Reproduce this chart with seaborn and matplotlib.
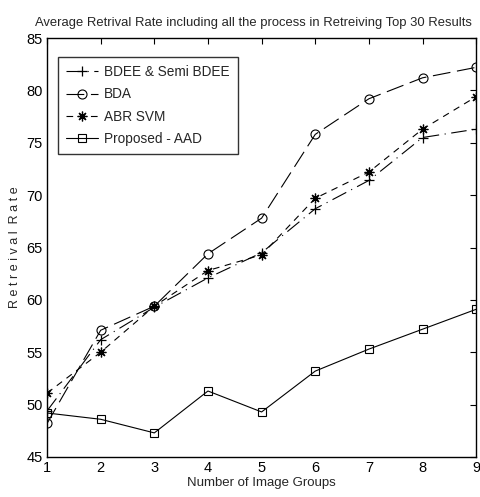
import matplotlib
matplotlib.use("Agg")
import matplotlib.pyplot as plt
import seaborn as sns
import pandas as pd

groups = [1, 2, 3, 4, 5, 6, 7, 8, 9]
bdee = [49.4, 56.2, 59.3, 62.1, 64.5, 68.7, 71.4, 75.5, 76.3]
bda = [48.2, 57.1, 59.4, 64.4, 67.8, 75.8, 79.2, 81.2, 82.2]
abr = [51.1, 55.0, 59.4, 62.8, 64.3, 69.7, 72.2, 76.3, 79.4]
aad = [49.2, 48.6, 47.3, 51.3, 49.3, 53.2, 55.3, 57.2, 59.1]
labels = ["BDEE & Semi BDEE", "BDA", "ABR SVM", "Proposed - AAD"]

sns.set_style("white")
plt.rcParams['font.family'] = ['Liberation Sans Narrow', 'Liberation Sans', 'DejaVu Sans']

fig = plt.figure(figsize=(4.8, 4.97), dpi=100)
ax = fig.add_axes([0.098, 0.0805, 0.894, 0.843])

styles = [
    dict(marker='+', ms=7.5, linestyle=(0, (14, 5, 1, 5)), mew=0.9),
    dict(marker='o', ms=6.5, mfc='none', linestyle=(0, (16, 6)), mew=0.8),
    dict(marker=(8, 2, 0), ms=7, linestyle=(0, (6, 5)), mew=0.9),
    dict(marker='s', ms=6, mfc='none', linestyle='-', mew=0.8),
]
for vals, lab, st in zip([bdee, bda, abr, aad], labels, styles):
    df = pd.DataFrame({"x": groups, "y": vals})
    sns.lineplot(data=df, x="x", y="y", ax=ax, color='black', lw=0.8,
                 mec='black', label=lab, **st)

ax.set_xlim(1, 9)
ax.set_ylim(45, 85)
ax.set_xticks(groups)
ax.set_yticks(range(45, 86, 5))
ax.tick_params(direction='in', length=4, width=0.8, top=True, right=True,
               labelsize=10.5, colors='black', pad=3)
for s in ax.spines.values():
    s.set_color('black')
    s.set_linewidth(1.0)
ax.set_xlabel("Number of Image Groups", fontsize=9.5, labelpad=1)
ax.set_ylabel("R e t r e i v a l  R a t e", fontsize=9, labelpad=4)
ax.set_title("Average Retrival Rate including all the process in Retreiving Top 30 Results",
             fontsize=9.4, pad=9, x=0.482)
leg = ax.legend(loc='upper left', bbox_to_anchor=(0.015, 0.965), fontsize=9.8,
                frameon=True, fancybox=False, handlelength=2.4, borderpad=0.6,
                labelspacing=0.62, handletextpad=0.4, borderaxespad=0.3)
leg.get_frame().set_edgecolor('black')
leg.get_frame().set_linewidth(1.0)
fig.savefig("out.png", dpi=100)
